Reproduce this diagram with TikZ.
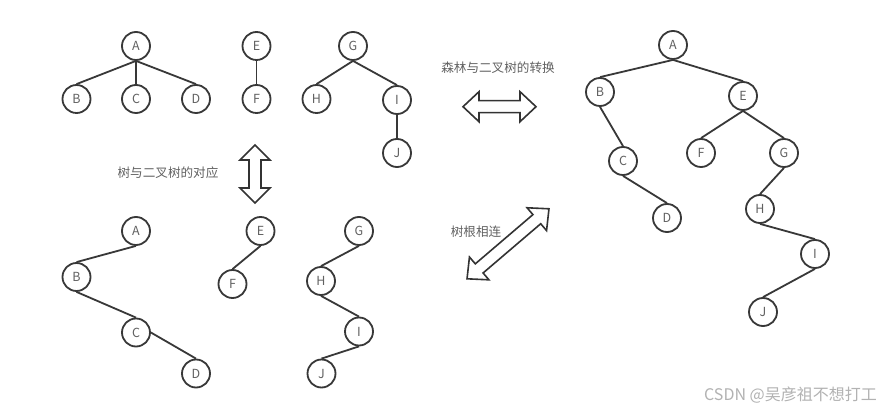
\documentclass[tikz,border=0pt]{standalone}
\usepackage{fontspec}
\setmainfont{Noto Sans CJK SC}
\begin{document}
\begin{tikzpicture}[x=1pt,y=-1pt,
  tn/.style={circle,draw=black!78,line width=1.8pt,minimum size=28pt,inner sep=0pt,
    font=\fontsize{12.5}{13}\selectfont,text=black!62},
  ed/.style={draw=black!78,line width=1.8pt},
  lbl/.style={font=\fontsize{12.6}{13}\selectfont,text=black!62,inner sep=0pt},
  arr/.style={draw=black!80,line width=1.6pt,line join=miter}]
\useasboundingbox (0,0) rectangle (883,411);
\fill[white] (0,0) rectangle (883,411);
% ---------- top-left forest
\node[tn] (tA) at (136,46) {A};
\node[tn] (tB) at (76.5,99) {B};
\node[tn] (tC) at (136,99) {C};
\node[tn] (tD) at (196,99) {D};
\node[tn] (tE) at (256.5,46) {E};
\node[tn] (tF) at (256.5,99) {F};
\node[tn] (tG) at (353,46) {G};
\node[tn] (tH) at (316.5,99) {H};
\node[tn] (tI) at (397,100) {I};
\node[tn] (tJ) at (397,153) {J};
\draw[ed] (tA.south) -- (tB.north);
\draw[ed] (tA.south) -- (tC.north);
\draw[ed] (tA.south) -- (tD.north);
\draw[ed] (tE.south) -- (tF.north);
\draw[ed] (tG.south) -- (tH.north);
\draw[ed] (tG.south) -- (tI.north);
\draw[ed] (tI.south) -- (tJ.north);
% ---------- bottom-left binary trees
\node[tn] (bA) at (136,231) {A};
\node[tn] (bB) at (76.5,277) {B};
\node[tn] (bC) at (136,332.5) {C};
\node[tn] (bD) at (196,373.5) {D};
\node[tn] (bE) at (260.5,231) {E};
\node[tn] (bF) at (232.5,284) {F};
\node[tn] (bG) at (359,231) {G};
\node[tn] (bH) at (321,281) {H};
\node[tn] (bI) at (359,331.5) {I};
\node[tn] (bJ) at (321.5,373.5) {J};
\draw[ed] (bA.south) -- (bB.north);
\draw[ed] (bB.south) -- (bC.north);
\draw[ed] (bC.east) -- (bD.north);
\draw[ed] (bE.south) -- (bF.north);
\draw[ed] (bG.south) -- (bH.north);
\draw[ed] (bH.south) -- (bI.north);
\draw[ed] (bI.south) -- (bJ.north);
% ---------- right binary tree
\node[tn] (rA) at (673,45) {A};
\node[tn] (rB) at (600,92) {B};
\node[tn] (rE) at (743,96) {E};
\node[tn] (rC) at (623,161) {C};
\node[tn] (rF) at (701,153) {F};
\node[tn] (rG) at (784,153) {G};
\node[tn] (rD) at (667,218) {D};
\node[tn] (rH) at (760,209) {H};
\node[tn] (rI) at (815,254) {I};
\node[tn] (rJ) at (763,312) {J};
\draw[ed] (rA.south) -- (rB.north);
\draw[ed] (rA.south) -- (rE.north);
\draw[ed] (rB.south) -- (rC.north);
\draw[ed] (rC.south) -- (rD.north);
\draw[ed] (rE.south) -- (rF.north);
\draw[ed] (rE.south) -- (rG.north);
\draw[ed] (rG.south) -- (rH.north);
\draw[ed] (rH.south) -- (rI.north);
\draw[ed] (rI.south) -- (rJ.north);
% ---------- double arrows
\begin{scope}[shift={(499.5,106.7)}]
\draw[arr] (-36.5,0) -- (-20.5,15) -- (-20.5,6) -- (20.5,6) -- (20.5,15) -- (36.5,0)
  -- (20.5,-15) -- (20.5,-6) -- (-20.5,-6) -- (-20.5,-15) -- cycle;
\end{scope}
\begin{scope}[shift={(255,174)},rotate=90]
\draw[arr] (-29,0) -- (-14,15) -- (-14,6) -- (14,6) -- (14,15) -- (29,0)
  -- (14,-15) -- (14,-6) -- (-14,-6) -- (-14,-15) -- cycle;
\end{scope}
\begin{scope}[shift={(508,243.8)},rotate=40.5]
\draw[arr] (-53.9,0) -- (-37.9,15) -- (-37.9,6) -- (37.9,6) -- (37.9,15) -- (53.9,0)
  -- (37.9,-15) -- (37.9,-6) -- (-37.9,-6) -- (-37.9,-15) -- cycle;
\end{scope}
% ---------- labels
\node[lbl] (l1) at (498,68) {森林与二叉树的转换};
\node[lbl] (l2) at (168,173) {树与二叉树的对应};
\node[lbl] (l3) at (476,232) {树根相连};
\node[lbl,anchor=east,font=\fontsize{16}{17}\selectfont,text=black!30] (wm) at (877,395) {CSDN @吴彦祖不想打工};
\end{tikzpicture}
\end{document}
